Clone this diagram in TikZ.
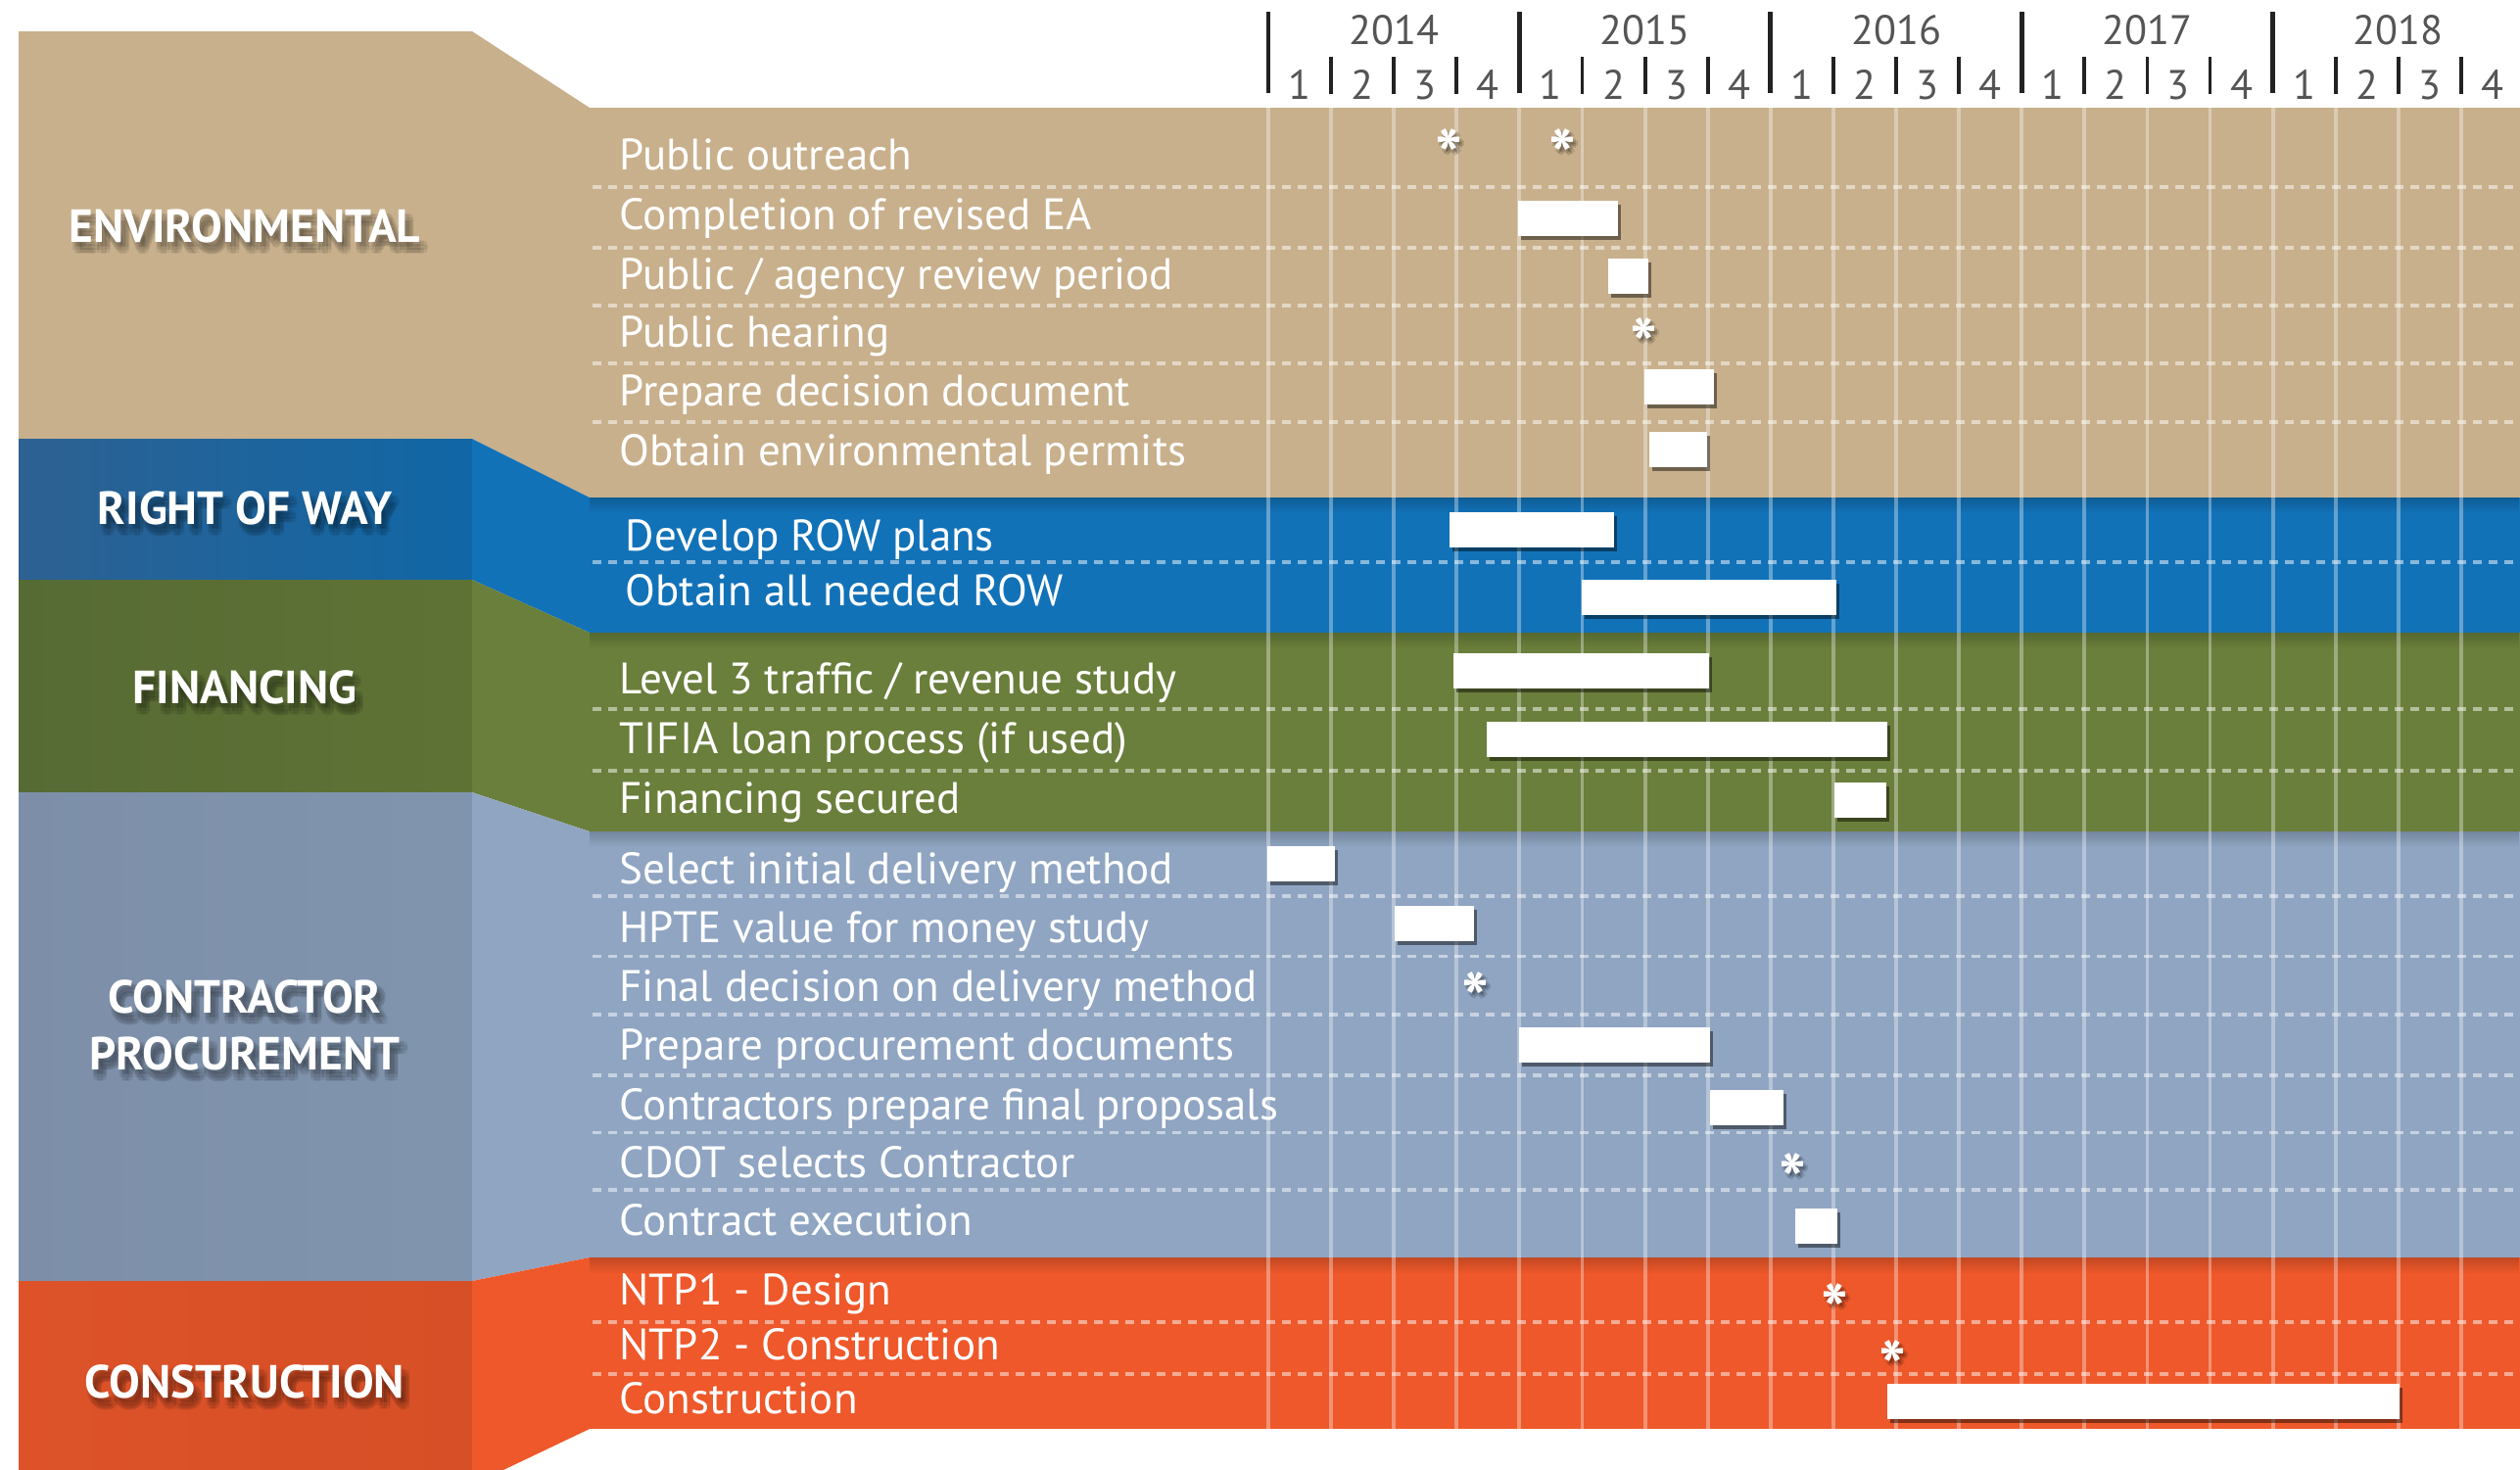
\documentclass[tikz,border=0pt]{standalone}
\usepackage{fontspec}
\setmainfont{PT Sans}
\usetikzlibrary{shadows,calc,fadings}
\definecolor{envtan}{HTML}{C8B08C}
\definecolor{rowblue}{HTML}{1272B8}
\definecolor{rowdark}{HTML}{2D6192}
\definecolor{rowlight}{HTML}{0E77C0}
\definecolor{fingreen}{HTML}{6A7F3B}
\definecolor{findark}{HTML}{566B34}
\definecolor{finlight}{HTML}{6E843D}
\definecolor{conblue}{HTML}{8FA5C2}
\definecolor{condark}{HTML}{7D8FA8}
\definecolor{conlight}{HTML}{93A9C5}
\definecolor{cstred}{HTML}{EE582A}
\definecolor{cstdark}{HTML}{DD5229}
\definecolor{cstlight}{HTML}{F05A2C}
\definecolor{axisgray}{HTML}{555555}
\definecolor{tickink}{HTML}{222222}
\tikzfading[name=fadedown, top color=transparent!0, bottom color=transparent!100]

% section title with a soft dark shadow behind it
\newcommand{\secttitle}[3]{%
  \foreach \a in {0,45,...,315}
    \node[head, text=black, opacity=0.07] (#1s\a) at ($(#2)+(0.05,-0.08)+(\a:0.04)$) {#3};
  \node[head] (#1) at (#2) {#3};}
% milestone star, same soft shadow
\newcommand{\milestone}[2]{%
  \foreach \a in {0,90,180,270}
    \node[mile, text=black, opacity=0.12] (#1s\a) at ($(#2)+(0.03,-0.04)+(\a:0.02)$) {*};
  \node[mile] (#1) at (#2) {*};}

\begin{document}
\begin{tikzpicture}[
  task/.style={anchor=base west, text=white, font=\fontsize{12.8}{14}\selectfont, inner sep=0pt},
  head/.style={text=white, font=\bfseries\fontsize{13.5}{16.5}\selectfont, align=center, inner sep=0pt},
  bar/.style={fill=white, drop shadow={shadow xshift=0.03cm, shadow yshift=-0.04cm, opacity=0.45, fill=black}},
  mile/.style={text=white, font=\bfseries\fontsize{21}{21}\selectfont, inner sep=0pt, yshift=-0.15cm},
  vline/.style={white, opacity=0.35, line width=1.1pt},
  sep/.style={white, opacity=0.5, line width=1.1pt, dash pattern=on 0.09cm off 0.07cm},
  topshade/.style={black, opacity=0.18, path fading=fadedown},
  yr/.style={text=axisgray, font=\fontsize{12}{14}\selectfont, inner sep=0pt}]
\useasboundingbox (0,0) rectangle (25.73,-15);
\fill[white] (0,0) rectangle (25.73,-15);

% time axis
\foreach \y [count=\k from 0] in {2014,...,2018} {
  \draw[tickink, line width=1.4pt] ({12.95+2.564*\k},-0.12) -- ({12.95+2.564*\k},-0.95);
  \node[yr] (y\y) at ({12.95+2.564*\k+1.282},-0.31) {\y};
  \foreach \q in {1,...,4}
    \node[yr] (q\y\q) at ({12.95+2.564*\k+0.641*(\q-0.5)},-0.865) {\q};
  \foreach \q in {1,2,3}
    \draw[tickink, line width=1.1pt] ({12.95+2.564*\k+0.641*\q},-0.58) -- ({12.95+2.564*\k+0.641*\q},-0.96);
}

% left panels and wedges
\fill[envtan] (0.19,-0.32) rectangle (4.82,-4.48);
\fill[envtan] (4.82,-0.32) -- (6.02,-1.10) -- (6.02,-5.08) -- (4.82,-4.48) -- cycle;
\shade[left color=rowdark, middle color=rowlight, right color=rowblue!90!black] (0.19,-4.48) rectangle (4.82,-5.92);
\fill[rowblue] (4.82,-4.48) -- (6.02,-5.08) -- (6.02,-6.46) -- (4.82,-5.92) -- cycle;
\shade[left color=findark, middle color=finlight, right color=fingreen!90!black] (0.19,-5.92) rectangle (4.82,-8.09);
\fill[fingreen] (4.82,-5.92) -- (6.02,-6.46) -- (6.02,-8.49) -- (4.82,-8.09) -- cycle;
\shade[left color=condark, middle color=conlight, right color=conblue!90!black] (0.19,-8.09) rectangle (4.82,-13.08);
\fill[conblue] (4.82,-8.09) -- (6.02,-8.49) -- (6.02,-12.84) -- (4.82,-13.08) -- cycle;
\shade[left color=cstdark, middle color=cstlight, right color=cstred!90!black] (0.19,-13.08) rectangle (4.82,-15.1);
\fill[cstred] (4.82,-13.08) -- (6.02,-12.84) -- (6.02,-14.59) -- (4.95,-15.1) -- (4.82,-15.1) -- cycle;

% chart bands
\fill[envtan] (6.02,-1.10) rectangle (25.73,-5.08);
\fill[rowblue] (6.02,-5.08) rectangle (25.73,-6.46);
\fill[fingreen] (6.02,-6.46) rectangle (25.73,-8.49);
\fill[conblue] (6.02,-8.49) rectangle (25.73,-12.84);
\fill[cstred] (6.02,-12.84) rectangle (25.73,-14.59);
\foreach \y in {5.08,6.46,8.49,12.84}
  \fill[topshade] (6.02,-\y) rectangle (25.73,-\y-0.16);

\foreach \k in {0,...,19}
  \draw[vline] ({12.95+0.641*\k},-1.10) -- ({12.95+0.641*\k},-14.59);
\foreach \y in {1.91,2.53,3.12,3.71,4.31,5.74,7.24,7.87,9.15,9.765,10.36,10.98,11.565,12.15,13.50,14.03}
  \draw[sep] (6.05,-\y) -- (25.73,-\y);

\secttitle{env}{2.50,-2.31}{ENVIRONMENTAL}
\secttitle{row}{2.50,-5.19}{RIGHT OF WAY}
\secttitle{fin}{2.50,-7.02}{FINANCING}
\secttitle{con}{2.50,-10.47}{CONTRACTOR\\PROCUREMENT}
\secttitle{cst}{2.50,-14.11}{CONSTRUCTION}

% tasks
\node[task] (outreach) at (6.32,-1.73) {Public outreach};
\node[task] (ea) at (6.32,-2.34) {Completion of revised EA};
\node[task] (review) at (6.32,-2.95) {Public / agency review period};
\node[task] (hearing) at (6.32,-3.54) {Public hearing};
\node[task] (decision) at (6.32,-4.14) {Prepare decision document};
\node[task] (permits) at (6.32,-4.75) {Obtain environmental permits};
\node[task] (rowplans) at (6.38,-5.62) {Develop ROW plans};
\node[task] (rowall) at (6.38,-6.18) {Obtain all needed ROW};
\node[task] (traffic) at (6.32,-7.08) {Level 3 traffic / revenue study};
\node[task] (tifia) at (6.32,-7.69) {TIFIA loan process (if used)};
\node[task] (secured) at (6.32,-8.30) {Financing secured};
\node[task] (select) at (6.32,-9.02) {Select initial delivery method};
\node[task] (hpte) at (6.32,-9.62) {HPTE value for money study};
\node[task] (final) at (6.32,-10.22) {Final decision on delivery method};
\node[task] (docs) at (6.32,-10.82) {Prepare procurement documents};
\node[task] (proposals) at (6.32,-11.43) {Contractors prepare final proposals};
\node[task] (selects) at (6.32,-12.02) {CDOT selects Contractor};
\node[task] (exec) at (6.32,-12.61) {Contract execution};
\node[task] (ntp1) at (6.32,-13.32) {NTP1 - Design};
\node[task] (ntp2) at (6.32,-13.88) {NTP2 - Construction};
\node[task] (build) at (6.32,-14.43) {Construction};

% bars
\fill[bar] (15.50,-2.05) rectangle (16.52,-2.41);
\fill[bar] (16.42,-2.64) rectangle (16.83,-3.00);
\fill[bar] (16.79,-3.77) rectangle (17.50,-4.13);
\fill[bar] (16.84,-4.41) rectangle (17.43,-4.77);
\fill[bar] (14.80,-5.23) rectangle (16.48,-5.59);
\fill[bar] (16.15,-5.92) rectangle (18.75,-6.28);
\fill[bar] (14.84,-6.67) rectangle (17.45,-7.03);
\fill[bar] (15.18,-7.37) rectangle (19.27,-7.73);
\fill[bar] (18.73,-7.99) rectangle (19.26,-8.35);
\fill[bar] (12.94,-8.64) rectangle (13.63,-9.00);
\fill[bar] (14.24,-9.25) rectangle (15.05,-9.61);
\fill[bar] (15.51,-10.49) rectangle (17.46,-10.85);
\fill[bar] (17.46,-11.13) rectangle (18.21,-11.49);
\fill[bar] (18.33,-12.34) rectangle (18.76,-12.70);
\fill[bar] (19.27,-14.13) rectangle (24.50,-14.49);

% milestones
\milestone{m1}{14.79,-1.44}
\milestone{m2}{15.95,-1.44}
\milestone{m3}{16.78,-3.37}
\milestone{m4}{15.06,-10.04}
\milestone{m5}{18.30,-11.89}
\milestone{m6}{18.73,-13.22}
\milestone{m7}{19.32,-13.80}
\end{tikzpicture}
\end{document}
